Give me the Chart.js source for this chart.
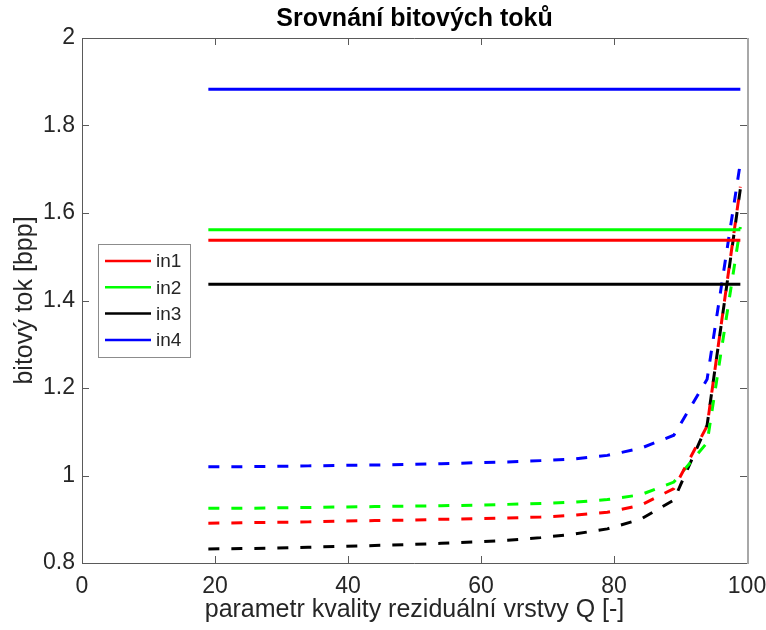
<!DOCTYPE html>
<html>
<head>
<meta charset="utf-8">
<script src="https://cdn.jsdelivr.net/npm/chart.js@4/dist/chart.umd.min.js"></script>
<style>
  html, body { margin: 0; padding: 0; background: #ffffff; }
  #wrap { width: 766px; height: 630px; }
</style>
</head>
<body>
<div id="wrap"><canvas id="chart" width="766" height="630"></canvas></div>
<script>
// Quality parameter of the residual layer
const qValues = [19, 24, 29, 34, 39, 44, 49, 54, 59, 64, 69, 74, 79, 84, 89, 94, 99];

// Bit rate of the layered coding for each input image [bpp]
const rateIn1 = [0.891, 0.892, 0.893, 0.894, 0.896, 0.897, 0.898, 0.900, 0.901, 0.903, 0.905, 0.909, 0.916, 0.932, 0.970, 1.113, 1.660];
const rateIn2 = [0.925, 0.925, 0.926, 0.927, 0.928, 0.929, 0.930, 0.931, 0.932, 0.934, 0.936, 0.939, 0.945, 0.956, 0.985, 1.075, 1.568];
const rateIn3 = [0.832, 0.833, 0.834, 0.836, 0.838, 0.840, 0.842, 0.845, 0.848, 0.852, 0.858, 0.866, 0.878, 0.900, 0.944, 1.115, 1.655];
const rateIn4 = [1.020, 1.020, 1.021, 1.022, 1.023, 1.024, 1.025, 1.027, 1.029, 1.031, 1.034, 1.038, 1.046, 1.062, 1.092, 1.220, 1.715];

// Reference bit rate of each input image (single layer) [bpp]
const refRates = [1.538, 1.562, 1.437, 1.883];

const seriesNames = ['in1', 'in2', 'in3', 'in4'];
const seriesColors = ['#ff0000', '#00ff00', '#000000', '#0000ff'];

const xTicks = [0, 20, 40, 60, 80, 100];
const yTicks = [0.8, 1, 1.2, 1.4, 1.6, 1.8, 2];
const yTickLabels = ['0.8', '1', '1.2', '1.4', '1.6', '1.8', '2'];

const chartTitle = 'Srovnání bitových toků';
const xTitle = 'parametr kvality reziduální vrstvy Q [-]';
const yTitle = 'bitový tok [bpp]';

const FONT = '"Liberation Sans", Arial, Helvetica, sans-serif';
const TEXT_COLOR = '#262626';

const rateSeries = [rateIn1, rateIn2, rateIn3, rateIn4];

const datasets = [];
// Solid reference lines (these carry the legend)
refRates.forEach((r, i) => {
  datasets.push({
    label: seriesNames[i],
    data: [{ x: qValues[0], y: r }, { x: qValues[qValues.length - 1], y: r }],
    borderColor: seriesColors[i],
    borderWidth: 3,
    pointRadius: 0,
    fill: false,
    tension: 0,
    inLegend: true
  });
});
// Dashed layered-coding curves
rateSeries.forEach((vals, i) => {
  datasets.push({
    label: seriesNames[i] + ' (Q)',
    data: qValues.map((q, k) => ({ x: q, y: vals[k] })),
    borderColor: seriesColors[i],
    borderWidth: 3,
    borderDash: [11, 12],
    pointRadius: 0,
    fill: false,
    tension: 0,
    inLegend: false
  });
});

// Axes box with inward ticks on all four sides
const framePlugin = {
  id: 'frame',
  afterDatasetsDraw(chart) {
    const { ctx, chartArea: a, scales: { x, y } } = chart;
    const tl = 7;
    ctx.save();
    ctx.lineWidth = 1;
    ctx.strokeStyle = '#5a5a5a';
    ctx.beginPath();
    ctx.moveTo(a.left + 0.5, a.top + 0.5);
    ctx.lineTo(a.left + 0.5, a.bottom + 0.5);
    ctx.lineTo(a.right, a.bottom + 0.5);
    ctx.moveTo(a.left + 0.5, a.top + 0.5);
    ctx.lineTo(a.right, a.top + 0.5);
    xTicks.forEach(v => {
      const px = Math.round(x.getPixelForValue(v)) + 0.5;
      ctx.moveTo(px, a.bottom); ctx.lineTo(px, a.bottom - tl);
      ctx.moveTo(px, a.top); ctx.lineTo(px, a.top + tl);
    });
    yTicks.forEach(v => {
      const py = Math.round(y.getPixelForValue(v)) + 0.5;
      ctx.moveTo(a.left, py); ctx.lineTo(a.left + tl, py);
      ctx.moveTo(a.right, py); ctx.lineTo(a.right - tl, py);
    });
    ctx.stroke();
    ctx.strokeStyle = '#a8a8a8';
    ctx.lineWidth = 2;
    ctx.beginPath();
    ctx.moveTo(a.right + 1, a.top);
    ctx.lineTo(a.right + 1, a.bottom + 1);
    ctx.stroke();
    ctx.restore();
  }
};

// Title above the plot
const titlePlugin = {
  id: 'plotTitle',
  afterDraw(chart) {
    const { ctx, chartArea: a } = chart;
    ctx.save();
    ctx.font = 'bold 25px ' + FONT;
    ctx.fillStyle = '#000000';
    ctx.textAlign = 'center';
    ctx.textBaseline = 'middle';
    ctx.fillText(chartTitle, (a.left + a.right) / 2, 19);
    ctx.restore();
  }
};

// Boxed legend inside the plot area, left side
const legendPlugin = {
  id: 'boxLegend',
  afterDraw(chart) {
    const { ctx } = chart;
    const items = chart.data.datasets.filter(d => d.inLegend);
    const bx = 98, by = 244, bw = 92, bh = 113;
    const rowH = 26.3, firstY = 261;
    ctx.save();
    ctx.fillStyle = '#ffffff';
    ctx.fillRect(bx, by, bw, bh);
    ctx.strokeStyle = '#8c8c8c';
    ctx.lineWidth = 1;
    ctx.strokeRect(bx + 0.5, by + 0.5, bw, bh);
    ctx.font = '19px ' + FONT;
    ctx.textBaseline = 'middle';
    ctx.textAlign = 'left';
    items.forEach((d, i) => {
      const yy = firstY + i * rowH;
      ctx.strokeStyle = d.borderColor;
      ctx.lineWidth = 2.5;
      ctx.beginPath();
      ctx.moveTo(105, yy);
      ctx.lineTo(151, yy);
      ctx.stroke();
      ctx.fillStyle = TEXT_COLOR;
      ctx.fillText(d.label, 156, yy + 1);
    });
    ctx.restore();
  }
};

new Chart(document.getElementById('chart'), {
  type: 'line',
  data: { datasets },
  options: {
    responsive: false,
    animation: false,
    devicePixelRatio: 1,
    layout: { padding: { top: 38, right: 19, left: 0, bottom: 0 } },
    plugins: {
      legend: { display: false },
      tooltip: { enabled: false },
      title: { display: false }
    },
    scales: {
      x: {
        type: 'linear',
        min: 0,
        max: 100,
        afterBuildTicks(s) { s.ticks = xTicks.map(v => ({ value: v })); },
        afterFit(s) { s.height = 67; s.paddingLeft = 0; s.paddingRight = 0; },
        grid: { display: false, drawTicks: false },
        border: { display: false },
        ticks: {
          color: TEXT_COLOR,
          font: { family: FONT, size: 23 },
          padding: 10,
          maxRotation: 0,
          autoSkip: false,
          callback: v => String(v)
        },
        title: {
          display: true,
          text: xTitle,
          color: TEXT_COLOR,
          font: { family: FONT, size: 25 },
          padding: { top: 0, bottom: 5 }
        }
      },
      y: {
        type: 'linear',
        min: 0.8,
        max: 2,
        afterBuildTicks(s) { s.ticks = yTicks.map(v => ({ value: v })); },
        afterFit(s) { s.width = 82; s.paddingTop = 0; s.paddingBottom = 0; },
        grid: { display: false, drawTicks: false },
        border: { display: false },
        ticks: {
          color: TEXT_COLOR,
          font: { family: FONT, size: 23 },
          padding: 7,
          autoSkip: false,
          callback: v => {
            const k = yTicks.findIndex(t => Math.abs(t - v) < 1e-9);
            return k >= 0 ? yTickLabels[k] : '';
          }
        },
        title: {
          display: true,
          text: yTitle,
          color: TEXT_COLOR,
          font: { family: FONT, size: 25 },
          padding: { top: 10, bottom: 0 }
        }
      }
    }
  },
  plugins: [framePlugin, titlePlugin, legendPlugin]
});
</script>
</body>
</html>
